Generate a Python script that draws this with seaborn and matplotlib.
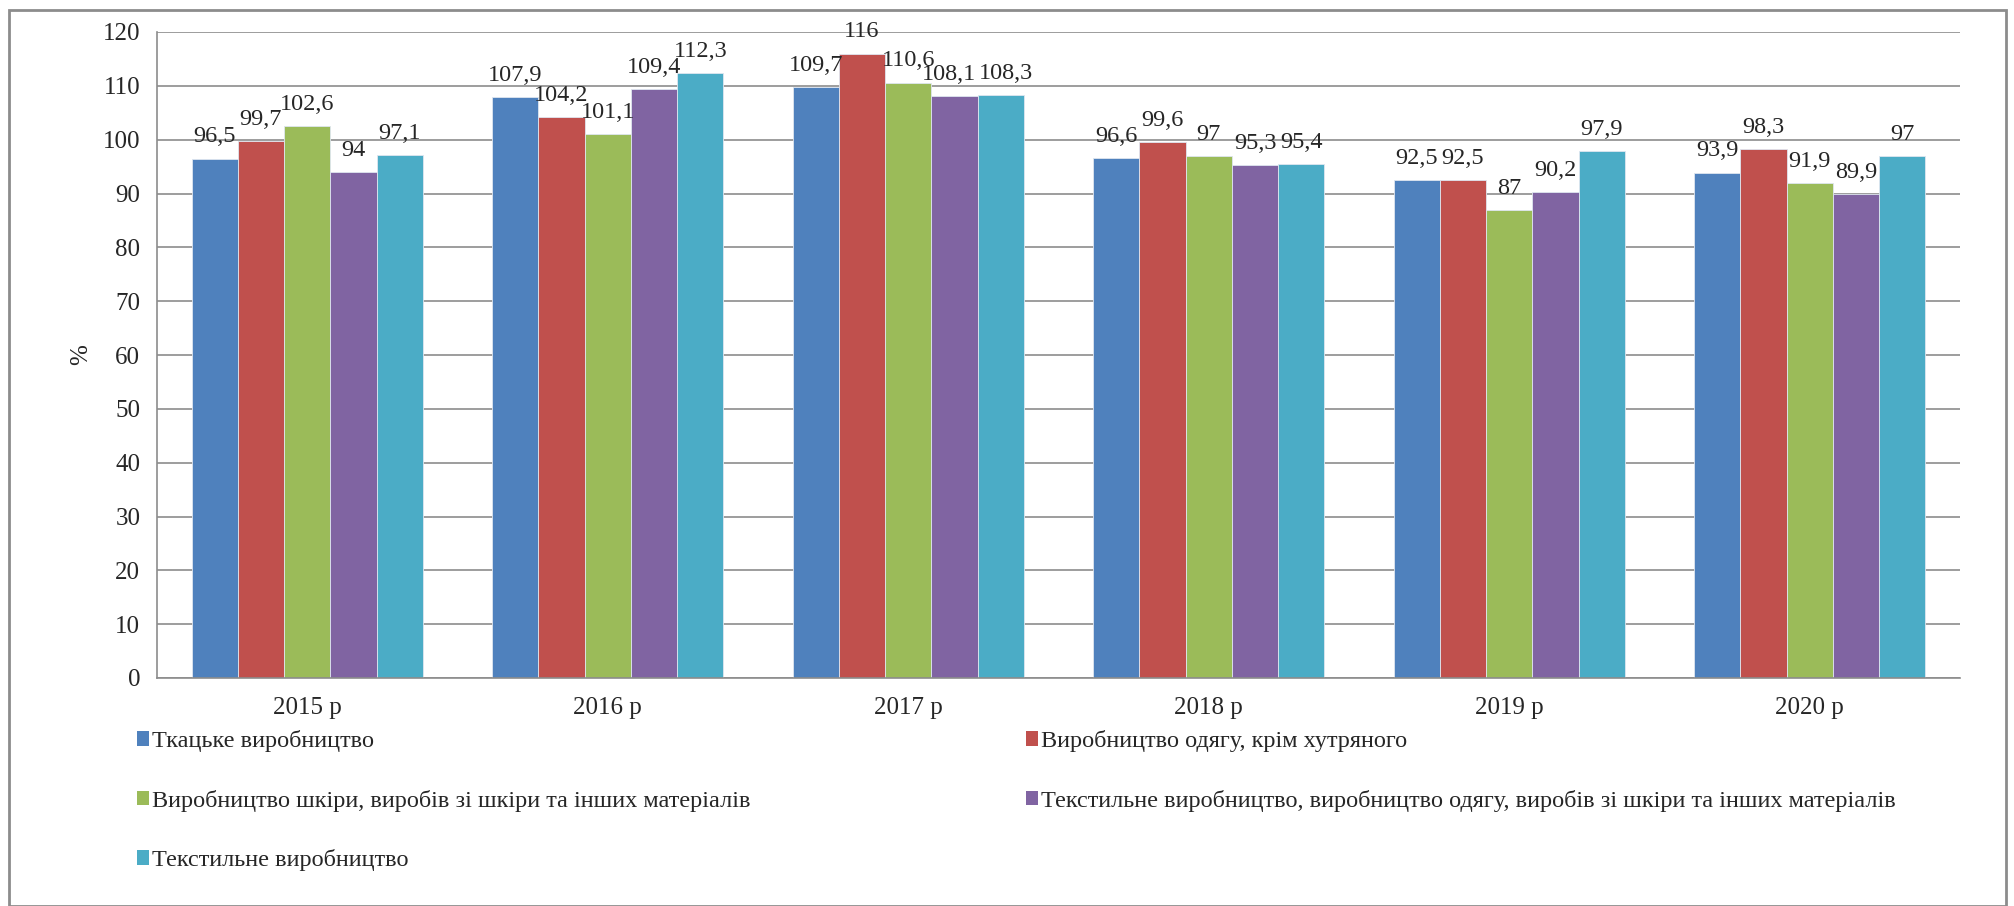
import numpy as np
import pandas as pd
from matplotlib import pyplot as plt
from matplotlib.patches import Rectangle, Patch
import seaborn as sns

sns.set_style("white")
plt.rcParams['font.family'] = 'serif'
plt.rcParams['font.serif'] = ['Liberation Serif', 'Times New Roman', 'DejaVu Serif']

years = ['2015 р', '2016 р', '2017 р', '2018 р', '2019 р', '2020 р']
series = ['Ткацьке виробництво',
          'Виробництво одягу, крім хутряного',
          'Виробництво шкіри, виробів зі шкіри та інших матеріалів',
          'Текстильне виробництво, виробництво одягу, виробів зі шкіри та інших матеріалів',
          'Текстильне виробництво']
tkatske = [96.5, 107.9, 109.7, 96.6, 92.5, 93.9]
odyag = [99.7, 104.2, 116, 99.6, 92.5, 98.3]
shkira = [102.6, 101.1, 110.6, 97, 87, 91.9]
tekst_all = [94, 109.4, 108.1, 95.3, 90.2, 89.9]
tekst = [97.1, 112.3, 108.3, 95.4, 97.9, 97]
palette = ['#4F81BD', '#C0504D', '#9BBB59', '#8064A2', '#4BACC6']

rows = []
for name, vals in zip(series, [tkatske, odyag, shkira, tekst_all, tekst]):
    for y, v in zip(years, vals):
        rows.append({'year': y, 'series': name, 'value': v})
df = pd.DataFrame(rows)

fig = plt.figure(figsize=(20.15, 9.06), dpi=100)
ax = fig.add_axes([157/2015, 1 - 678/906, (1960-157)/2015, (678-32)/906])

sns.barplot(data=df, x='year', y='value', hue='series', hue_order=series,
            palette=palette, width=0.77, saturation=1, ax=ax,
            edgecolor='#dfe6f0', linewidth=0.6, legend=False)

def fmt(v):
    return f'{v:g}'.replace('.', ',')

label_sets = []
for cont in ax.containers:
    label_sets.append(ax.bar_label(cont, labels=[fmt(b.get_height()) for b in cont],
                                   padding=8, fontsize=17.5))

# 2017: two neighbouring labels collide, nudge them apart a little
label_sets[3][2].xyann = (-4, 8)
label_sets[4][2].xyann = (4, 8)

ax.set_ylim(0, 120)
ax.set_yticks(np.arange(0, 121, 10))
ax.set_xlim(-0.5, len(years) - 0.5)
ax.yaxis.grid(True, color='#8c8c8c', linewidth=1.2)
ax.set_axisbelow(True)
ax.set_xlabel('')
ax.set_ylabel('%', fontsize=18, labelpad=8)
for s in ['top', 'right']:
    ax.spines[s].set_visible(False)
for s in ['left', 'bottom']:
    ax.spines[s].set_color('#8c8c8c')
    ax.spines[s].set_linewidth(1.2)

ax.set_xticks(np.arange(len(years)))
ax.set_xticklabels(years, fontsize=18)
ax.set_xticks(np.arange(-0.5, len(years)), minor=True)
ax.tick_params(axis='x', which='major', length=0, pad=14)
ax.tick_params(axis='x', which='minor', length=8, color='#8c8c8c', width=1.2)
ax.tick_params(axis='y', length=6, color='#8c8c8c', width=1.2, labelsize=18, pad=6)

handles = [Patch(facecolor=c, edgecolor='none') for c in palette]
leg_kw = dict(frameon=False, prop={'size': 17.5}, handlelength=0.5, handleheight=0.55,
              handletextpad=0.12, labelspacing=1.55, borderaxespad=0, borderpad=0)
fig.legend([handles[0], handles[2], handles[4]], [series[0], series[2], series[4]],
           loc='upper left', bbox_to_anchor=(137/2015, 1 - 730/906), **leg_kw)
fig.legend([handles[1], handles[3]], [series[1], series[3]],
           loc='upper left', bbox_to_anchor=(1026/2015, 1 - 730/906), **leg_kw)

fig.patches.append(Rectangle((9/2015, 0), (2006-9)/2015, 1 - 10/906,
                             transform=fig.transFigure, fill=False,
                             edgecolor='#8c8c8c', linewidth=2))

fig.savefig('out.png', dpi=100)
